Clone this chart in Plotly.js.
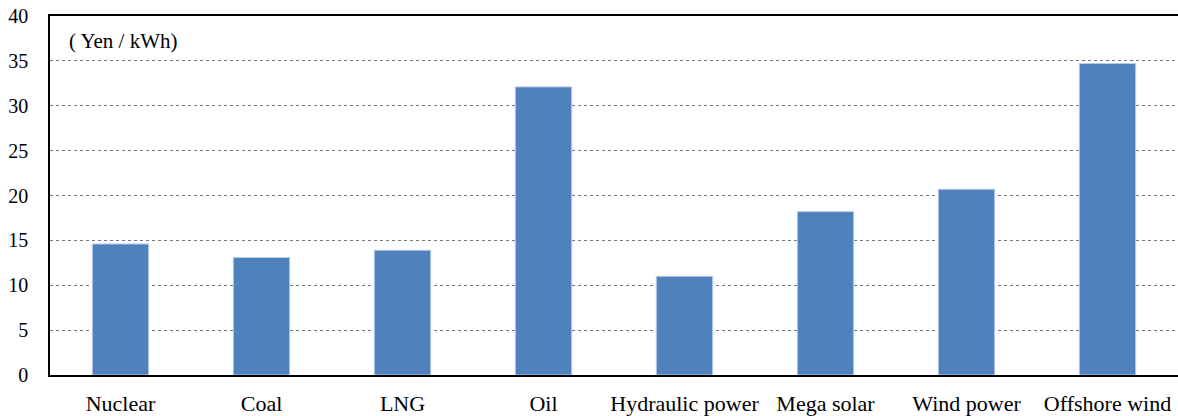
<!DOCTYPE html>
<html>
<head>
<meta charset="utf-8">
<script src="https://cdn.plot.ly/plotly-3.0.1.min.js"></script>
<style>
html,body{margin:0;padding:0;background:#fff;}
#preload{position:absolute;left:0;top:0;height:0;overflow:hidden;}
#preload::before{content:"0123456789 Hydraulic power ( Yen / kWh)";font-family:"Liberation Serif";font-size:19px;color:#fff;}
</style>
</head>
<body>
<div id="preload"></div>
<div id="chart"></div>
<script>
const categories = ["Nuclear", "Coal", "LNG", "Oil", "Hydraulic power", "Mega solar", "Wind power", "Offshore wind"];
const costs = [14.6, 13.1, 13.9, 32.1, 11.0, 18.2, 20.7, 34.7];
const yTicks = [0, 5, 10, 15, 20, 25, 30, 35, 40];
const unitLabel = "( Yen / kWh)";

const serifFamily = "Liberation Serif";
void document.body.offsetHeight;

const data = [{
  type: "bar",
  x: categories,
  y: costs,
  marker: {color: "#4F81BD", line: {color: "#B9CDE5", width: 1}},
  hoverinfo: "x+y"
}];
const layout = {
  width: 1178, height: 416,
  margin: {l: 50, r: 0, t: 16, b: 41},
  paper_bgcolor: "#fff", plot_bgcolor: "#fff",
  bargap: 0.6,
  showlegend: false,
  xaxis: {
    type: "category",
    showline: true, linecolor: "#000", linewidth: 1.5, mirror: true,
    ticks: "", showgrid: false,
    tickfont: {family: serifFamily, size: 22, color: "#000"},
    ticklabelstandoff: 8
  },
  yaxis: {
    range: [0, 40],
    tickvals: yTicks,
    ticktext: yTicks.map(String),
    showline: true, linecolor: "#000", linewidth: 1.5,
    ticks: "", showgrid: true, gridcolor: "#777", griddash: "dot", gridwidth: 1,
    zeroline: false,
    tickfont: {family: serifFamily, size: 20, color: "#000"},
    ticklabelstandoff: 16
  },
  annotations: [{
    text: unitLabel, xref: "paper", yref: "paper",
    x: 0.015, y: 0.93, xanchor: "left", yanchor: "middle",
    showarrow: false, font: {family: serifFamily, size: 21, color: "#000"}
  }]
};
Plotly.newPlot("chart", data, layout, {displayModeBar: false});
document.fonts.ready.then(() => Plotly.react("chart", data, layout, {displayModeBar: false}));
</script>
</body>
</html>
